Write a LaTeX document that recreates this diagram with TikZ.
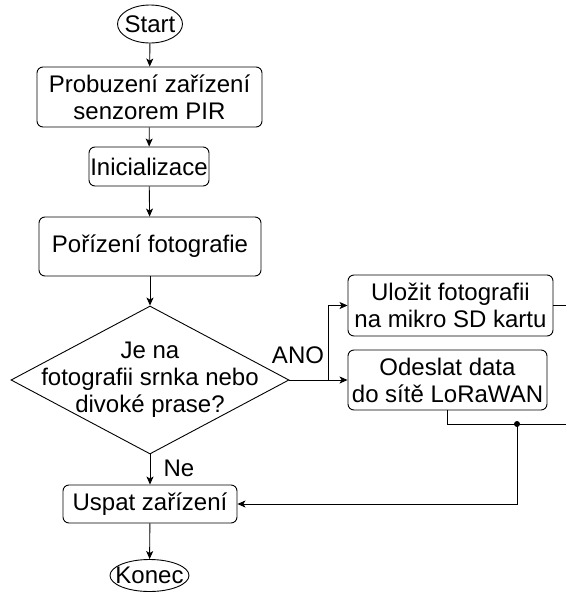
\documentclass[tikz,border=0pt]{standalone}
\usepackage{fontspec}
\setmainfont{Liberation Sans}
\usetikzlibrary{shapes.geometric,arrows.meta}

\begin{document}
\begin{tikzpicture}[x=1pt,y=-1pt,
  every node/.style={font=\fontsize{24}{27}\selectfont},
  proc/.style={draw, rounded corners=6pt, line width=0.9pt, align=center, inner sep=0pt},
  term/.style={draw, ellipse, line width=0.9pt, inner sep=0pt},
  decide/.style={draw, diamond, line width=0.9pt, inner sep=0pt},
  link/.style={line width=0.9pt, -{Stealth[length=8pt,width=7pt,inset=2pt]}},
  wire/.style={line width=0.9pt}]
\useasboundingbox (0,0) rectangle (566,592);

% main column
\node[term, minimum width=65pt, minimum height=38pt, label={center:Start}] (start) at (150,24) {};
\node[proc, minimum width=225pt, minimum height=60pt] (wake) at (149.5,97) {Probuzení zařízení\\senzorem PIR};
\node[proc, minimum width=120pt, minimum height=39pt] (init) at (149,166.5) {Inicializace};
\node[proc, minimum width=222pt, minimum height=59pt] (photo) at (150,246.5) {Pořízení fotografie};
\node[decide, minimum width=278pt, minimum height=148pt,
      label={[align=center]center:Je na\\fotografii srnka nebo\\divoké prase?}] (check) at (150,380) {};
\node[proc, minimum width=174pt, minimum height=38pt] (sleep) at (150,504) {Uspat zařízení};
\node[term, minimum width=79pt, minimum height=32pt, label={center:Konec}] (stop) at (149.5,575.5) {};

% right branch
\node[proc, minimum width=205pt, minimum height=61pt] (save) at (450.5,305.5) {Uložit fotografii\\na mikro SD kartu};
\node[proc, minimum width=199pt, minimum height=60pt] (send) at (447.5,380) {Odeslat data\\do sítě LoRaWAN};

% branch labels
\node[inner sep=0pt] (yes) at (298,355) {ANO};
\node[inner sep=0pt] (no) at (179,468) {Ne};

% free ends and junctions
\coordinate (split) at (328,380);
\coordinate (saveout) at (566,305.5);
\coordinate (sendbend) at (447.5,424);
\coordinate (dot) at (517,424);
\coordinate (sendout) at (566,424);

% connectors
\draw[link] (start) -- (wake);
\draw[link] (wake) -- (init);
\draw[link] (init) -- (photo);
\draw[link] (photo) -- (check.north);
\draw[link] (check.south) -- (sleep);
\draw[link] (sleep) -- (stop);
\draw[link] (check.east) -- (send.west);
\draw[link] (split) |- (save.west);
\draw[wire] (save.east) -- (saveout);
\draw[wire] (send.south) -- (sendbend) -- (sendout);
\draw[link] (dot) |- (sleep.east);
\fill (dot) circle (3pt);
\end{tikzpicture}
\end{document}
